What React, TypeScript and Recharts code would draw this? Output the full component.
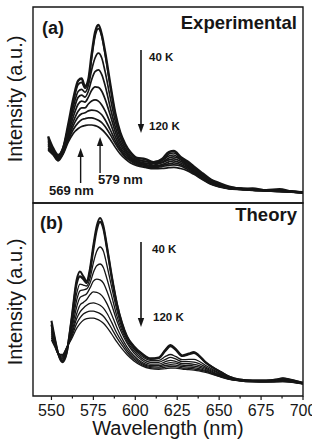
import React from 'react';
import {
  LineChart,
  Line,
  XAxis,
  YAxis,
  ReferenceArea,
  ReferenceLine,
  ReferenceDot,
} from 'recharts';

const INK = '#161616';
const FONT = '"Liberation Sans", Arial, Helvetica, sans-serif';

// Temperatures of the spectra, top (40 K) to bottom (120 K)
const TEMPS = ['40 K', '50 K', '60 K', '70 K', '80 K', '90 K', '100 K', '110 K', '120 K'];

// Panel (a): measured photoluminescence, intensity in arbitrary units
const WAVE_A = [548, 551, 554, 557, 560, 563, 566, 568, 570, 572, 574, 576, 578, 580, 582, 585, 588, 591, 594, 597, 601, 606, 611, 616, 620, 623, 627, 631, 635, 640, 645, 650, 656, 663, 670, 678, 686, 693, 700];
const EXP_40K = [34, 28, 24.5, 28, 40, 53, 62.5, 63.5, 59.5, 63, 76, 87, 90.8, 86, 77, 61, 46, 36, 30, 26, 23, 22.4, 20.8, 22.5, 26, 26.5, 23.5, 21.3, 18.5, 15.2, 12, 10.2, 8.3, 7.3, 7.4, 6.5, 7, 5.9, 5.5];
const EXP_50K = [33, 27.5, 24, 28.5, 39, 51.5, 60.5, 61.5, 58.5, 62, 74, 85, 89, 85, 76, 60, 45.5, 35.5, 29.5, 25.5, 22.5, 21.2, 21, 21.6, 25, 25.5, 23.2, 20.5, 18.2, 14.5, 11.7, 9.5, 8.1, 7.6, 7, 6.7, 6.2, 6.1, 5.3];
const EXP_60K = [32, 27, 23.5, 28, 38, 49, 57, 58, 56.5, 60, 68, 74, 76.5, 74, 67, 54, 42, 33.5, 28, 24.5, 22, 21.3, 20.3, 21.7, 24, 24.5, 22.3, 20.2, 17.5, 14.2, 11, 9.2, 7.8, 7.4, 6.9, 6.6, 6.2, 5.8, 5.5];
const EXP_70K = [31, 27, 23, 27.5, 37, 46.5, 54, 55, 54, 57, 63, 67, 67.9, 65.5, 60, 49, 39, 31.5, 27, 23.5, 21.5, 20.3, 20.2, 20.8, 23, 23.5, 22.2, 19.4, 17, 13.7, 10.8, 9.1, 7.7, 7.3, 6.8, 6.6, 6.1, 5.9, 5.5];
const EXP_80K = [30, 26, 23, 27, 35.5, 44, 50.5, 52, 51.5, 54, 57.5, 59.2, 59, 57, 53, 45, 36.5, 30, 26, 23, 21, 20.2, 19.4, 20.6, 22, 22.5, 21.3, 19.1, 16.5, 13.2, 10.5, 8.9, 7.6, 7.1, 6.7, 6.5, 6, 5.9, 5.4];
const EXP_90K = [29, 26, 22.5, 26.5, 34, 41.5, 47, 48.5, 48.5, 50.5, 52, 52.6, 52, 50, 47, 41, 34, 28.5, 25, 22.5, 20.5, 19.6, 18.9, 19.6, 21, 21.5, 20.4, 18.6, 16, 12.9, 10.2, 8.7, 7.5, 7.1, 6.6, 6.4, 6, 5.8, 5.3];
const EXP_100K = [28, 25.5, 22, 26, 33, 39.5, 44, 45.5, 46, 47, 47.4, 47.2, 46.5, 45, 42.5, 37.5, 32, 27.5, 24, 22, 20, 19.2, 18.4, 19.1, 20, 20.5, 19.6, 18, 15.6, 12.6, 10, 8.6, 7.4, 7, 6.5, 6.3, 5.9, 5.7, 5.2];
const EXP_110K = [27.5, 25, 22, 25.5, 32, 37.5, 41, 42.5, 43, 43.4, 43.4, 43, 42.2, 41, 39, 35, 30.5, 26.5, 23.5, 21.5, 19.5, 18.6, 18, 18.6, 19.2, 19.5, 18.9, 17.2, 15.1, 12.2, 9.8, 8.4, 7.3, 6.9, 6.5, 6.2, 5.9, 5.6, 5.2];
const EXP_120K = [27, 24.5, 21.5, 25, 31, 35.5, 38, 39, 39.5, 39.8, 39.8, 39.5, 38.8, 37.5, 35.8, 32.5, 28.5, 25, 22.5, 20.5, 19, 18.1, 17.5, 17.6, 18, 18.2, 17.6, 16.5, 14.6, 12, 9.6, 8.2, 7.2, 6.8, 6.4, 6.1, 5.8, 5.5, 5.1];

// Panel (b): calculated spectra
const WAVE_B = [550, 552, 554, 556.5, 559, 562, 565, 567, 569, 571, 573, 575, 577, 579, 581, 583, 586, 589, 592, 595, 599, 604, 609, 614, 618, 621, 624, 628, 632, 635, 638, 642, 646, 651, 656, 662, 670, 678, 684, 688, 692, 700];
const THEO_40K = [39, 30, 22, 17.5, 22, 40, 60, 64.5, 62, 59.5, 66, 78, 88, 92.2, 88, 78, 62, 48, 38, 31, 26, 22, 19.5, 20, 24, 26.4, 24.5, 21, 22, 22.8, 21, 17.5, 15, 12.5, 10, 8.5, 8, 8, 8.5, 9.2, 8.5, 6.8];
const THEO_50K = [37, 29, 22, 18, 22.5, 39, 58, 62, 60.5, 58.5, 64.5, 76, 86, 90.2, 86.5, 77, 61, 47.5, 37.5, 30.5, 25.5, 21.5, 19.2, 19.7, 23.5, 25.8, 24, 20.7, 21.6, 22.3, 20.7, 17.2, 14.8, 12.3, 10, 8.5, 8, 8, 8.4, 9, 8.4, 6.8];
const THEO_60K = [35, 28.5, 22, 18.5, 23, 37, 53, 58, 57.5, 57, 61, 69, 75, 77.2, 75, 68, 56, 44.5, 35.5, 29.5, 24.5, 20.5, 18.5, 18.5, 20.5, 21.5, 20.5, 18.8, 19, 19, 18, 15.8, 13.8, 11.5, 9.6, 8.4, 7.9, 7.8, 8.1, 8.5, 8, 6.7];
const THEO_70K = [34, 28, 22, 19, 23.5, 35.5, 49.5, 54.5, 55, 55.5, 58.5, 64, 67.5, 68.4, 66.5, 61, 51.5, 41.5, 34, 28.5, 23.5, 19.5, 17.5, 17.5, 19, 20, 19.2, 17.8, 17.8, 17.6, 16.8, 15, 13.2, 11.2, 9.4, 8.3, 7.8, 7.7, 7.9, 8.2, 7.8, 6.6];
const THEO_80K = [33, 27.5, 22, 19.5, 24, 34, 46, 51, 52, 53, 56, 59.5, 60.6, 60.2, 58.5, 54.5, 47, 39, 32.5, 27.5, 22.5, 18.5, 16.5, 16.5, 17.8, 18.5, 18, 16.8, 16.7, 16.4, 15.8, 14.3, 12.7, 10.9, 9.2, 8.2, 7.7, 7.6, 7.7, 8, 7.6, 6.5];
const THEO_90K = [32, 27, 22, 20, 24, 32.5, 42.5, 47, 48.5, 50, 52.5, 53.9, 53.7, 52.8, 51, 48, 42, 35.5, 30, 25.5, 21, 17.5, 15.8, 15.7, 16.8, 17.3, 17, 16, 15.8, 15.5, 15, 13.7, 12.2, 10.6, 9, 8.1, 7.6, 7.5, 7.6, 7.8, 7.5, 6.4];
const THEO_100K = [31, 26.5, 22, 20.5, 24.5, 31.5, 40, 43.5, 45.5, 47, 48, 48.2, 47.8, 47, 45.5, 43, 38, 32.5, 28, 24, 20, 16.8, 15.2, 15, 15.8, 16.2, 16, 15.3, 15, 14.7, 14.2, 13.2, 11.8, 10.3, 8.8, 8, 7.5, 7.4, 7.5, 7.7, 7.4, 6.3];
const THEO_110K = [30, 26, 22, 21, 25, 30.5, 37.5, 40.5, 42.5, 43.5, 44, 44, 43.5, 42.7, 41.3, 39, 34.8, 30.2, 26.3, 22.8, 19.2, 16.2, 14.7, 14.4, 15, 15.3, 15.2, 14.6, 14.3, 14, 13.6, 12.7, 11.5, 10, 8.7, 7.9, 7.4, 7.3, 7.4, 7.5, 7.3, 6.3];
const THEO_120K = [29, 25.5, 22, 21.5, 25, 29.5, 35, 37.5, 39.3, 40.1, 40.4, 40.3, 39.8, 39, 37.7, 35.7, 32, 28, 24.5, 21.5, 18.3, 15.6, 14.2, 13.8, 14.2, 14.5, 14.4, 14, 13.7, 13.4, 13, 12.2, 11.2, 9.8, 8.6, 7.8, 7.3, 7.2, 7.3, 7.4, 7.2, 6.2];

// Bottom axis: labelled ticks every 25 nm with unlabelled ticks between
const X_TICKS = [550, 562.5, 575, 587.5, 600, 612.5, 625, 637.5, 650, 662.5, 675, 687.5, 700];
const X_DOMAIN: [number, number] = [539, 700];
const Y_DOMAIN: [number, number] = [0, 100];

const EXP_SERIES = [EXP_40K, EXP_50K, EXP_60K, EXP_70K, EXP_80K, EXP_90K, EXP_100K, EXP_110K, EXP_120K];
const THEO_SERIES = [THEO_40K, THEO_50K, THEO_60K, THEO_70K, THEO_80K, THEO_90K, THEO_100K, THEO_110K, THEO_120K];

function buildRows(wave: number[], series: number[][]) {
  return wave.map((w, i) => {
    const row: Record<string, number> = { w };
    series.forEach((s, k) => {
      row[TEMPS[k]] = s[i];
    });
    return row;
  });
}

const ROWS_A = buildRows(WAVE_A, EXP_SERIES);
const ROWS_B = buildRows(WAVE_B, THEO_SERIES);

const textAt =
  (text: string, size: number, anchor: 'start' | 'end' | 'middle' = 'start', weight = 700) =>
  (p: any) => (
    <text
      x={p.cx}
      y={p.cy}
      textAnchor={anchor}
      dominantBaseline="central"
      fontFamily={FONT}
      fontSize={size}
      fontWeight={weight}
      fill={INK}
    >
      {text}
    </text>
  );

const arrowHead = (dir: 'up' | 'down', len = 9, half = 3.2) => (p: any) => {
  const s = dir === 'down' ? -1 : 1;
  const pts = `${p.cx},${p.cy} ${p.cx - half},${p.cy + s * len} ${p.cx + half},${p.cy + s * len}`;
  return <polygon points={pts} fill={INK} stroke="none" />;
};

const yTitle = (shift: number) => (props: any) => {
  const vb = props.viewBox || {};
  const cx = (vb.x ?? 0) + 15;
  const cy = (vb.y ?? 0) + (vb.height ?? 0) / 2 + shift;
  return (
    <text
      x={cx}
      y={cy}
      transform={`rotate(-90, ${cx}, ${cy})`}
      textAnchor="middle"
      dominantBaseline="central"
      fontFamily={FONT}
      fontSize={20}
      fill={INK}
    >
      Intensity (a.u.)
    </text>
  );
};

const xTitle = (props: any) => {
  const vb = props.viewBox || {};
  const cx = (vb.x ?? 0) + (vb.width ?? 0) / 2;
  const cy = (vb.y ?? 0) + 32;
  return (
    <text x={cx} y={cy} textAnchor="middle" dominantBaseline="central" fontFamily={FONT} fontSize={20} fill={INK}>
      Wavelength (nm)
    </text>
  );
};

const WavelengthTick = (props: any) => {
  const { x, y, payload } = props;
  const v = payload.value as number;
  const major = v % 25 === 0;
  return (
    <g>
      <line x1={x} x2={x} y1={y} y2={y + (major ? 4 : 2.5)} stroke={INK} strokeWidth={1.2} />
      {major && (
        <text x={x} y={y + 14} textAnchor="middle" dominantBaseline="central" fontFamily={FONT} fontSize={16} fill={INK}>
          {v}
        </text>
      )}
    </g>
  );
};

const Frame = () => (
  <ReferenceArea
    x1={X_DOMAIN[0]}
    x2={X_DOMAIN[1]}
    y1={Y_DOMAIN[0]}
    y2={Y_DOMAIN[1]}
    fill="none"
    stroke={INK}
    strokeWidth={1.4}
    ifOverflow="visible"
  />
);

export default function App() {
  return (
    <div style={{ position: 'absolute', left: 0, top: 0, width: 312, height: 445, background: '#fff', overflow: 'hidden' }}>
      {/* (a) Experimental */}
      <div style={{ position: 'absolute', left: 0, top: 0 }}>
        <LineChart width={312} height={210} data={ROWS_A} margin={{ top: 7, right: 9, bottom: 7, left: 0 }}>
          <XAxis dataKey="w" type="number" domain={X_DOMAIN} hide allowDataOverflow />
          <YAxis
            domain={Y_DOMAIN}
            width={33}
            tick={false}
            tickLine={false}
            axisLine={false}
            allowDataOverflow
            label={yTitle(-6)}
          />
          {Frame()}
          {TEMPS.map((t, i) => (
            <Line
              key={t}
              dataKey={t}
              type="monotone"
              stroke={INK}
              strokeWidth={i === 0 ? 2.4 : 1.7}
              dot={false}
              isAnimationActive={false}
            />
          ))}
          <ReferenceLine segment={[{ x: 603.4, y: 78 }, { x: 603.4, y: 38 }]} stroke={INK} strokeWidth={1.6} />
          <ReferenceDot x={603.4} y={35.7} r={0} shape={arrowHead('down')} />
          <ReferenceDot x={608.2} y={74.5} r={0} shape={textAt('40 K', 11.5)} />
          <ReferenceDot x={608.2} y={39.3} r={0} shape={textAt('120 K', 11.5)} />
          <ReferenceDot x={544.4} y={89.3} r={0} shape={textAt('(a)', 18)} />
          <ReferenceDot x={696.4} y={92.3} r={0} shape={textAt('Experimental', 18.5, 'end')} />
          <ReferenceLine segment={[{ x: 567.4, y: 10.2 }, { x: 567.4, y: 26 }]} stroke={INK} strokeWidth={1.4} />
          <ReferenceDot x={567.4} y={28.1} r={0} shape={arrowHead('up')} />
          <ReferenceLine segment={[{ x: 579, y: 15.3 }, { x: 579, y: 31.5 }]} stroke={INK} strokeWidth={1.4} />
          <ReferenceDot x={579} y={33.7} r={0} shape={arrowHead('up')} />
          <ReferenceDot x={548.5} y={6.6} r={0} shape={textAt('569 nm', 13)} />
          <ReferenceDot x={577.8} y={12.2} r={0} shape={textAt('579 nm', 13)} />
        </LineChart>
      </div>

      {/* (b) Theory */}
      <div style={{ position: 'absolute', left: 0, top: 200 }}>
        <LineChart width={312} height={245} data={ROWS_B} margin={{ top: 3, right: 9, bottom: 0, left: 0 }}>
          <XAxis
            dataKey="w"
            type="number"
            domain={X_DOMAIN}
            ticks={X_TICKS}
            interval={0}
            tick={WavelengthTick}
            tickLine={false}
            axisLine={false}
            tickSize={0}
            tickMargin={0}
            height={49}
            allowDataOverflow
            label={xTitle}
          />
          <YAxis
            domain={Y_DOMAIN}
            width={33}
            tick={false}
            tickLine={false}
            axisLine={false}
            allowDataOverflow
            label={yTitle(2.5)}
          />
          {Frame()}
          {TEMPS.map((t, i) => (
            <Line
              key={t}
              dataKey={t}
              type="monotone"
              stroke={INK}
              strokeWidth={i < 2 ? 2.1 : 1.3}
              dot={false}
              isAnimationActive={false}
            />
          ))}
          <ReferenceLine segment={[{ x: 603.4, y: 79.8 }, { x: 603.4, y: 38 }]} stroke={INK} strokeWidth={1.6} />
          <ReferenceDot x={603.4} y={35.8} r={0} shape={arrowHead('down')} />
          <ReferenceDot x={610} y={76.2} r={0} shape={textAt('40 K', 11.5)} />
          <ReferenceDot x={610.6} y={40.9} r={0} shape={textAt('120 K', 11.5)} />
          <ReferenceDot x={543.2} y={89.4} r={0} shape={textAt('(b)', 18)} />
          <ReferenceDot x={696.4} y={93.8} r={0} shape={textAt('Theory', 18.5, 'end')} />
        </LineChart>
      </div>
    </div>
  );
}
